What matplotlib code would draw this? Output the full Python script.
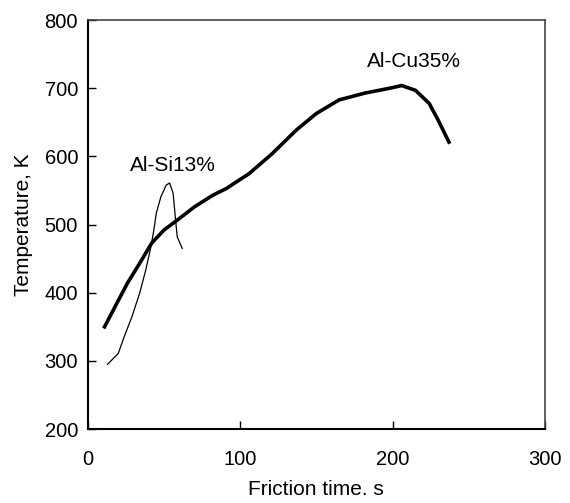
import matplotlib.pyplot as plt

plt.rcParams['font.family'] = ['Liberation Sans', 'DejaVu Sans']

# Al-Cu35% (thick line)
cu_time = [11, 18, 26, 34, 42, 50, 59, 70, 82, 91, 106, 121, 137, 150,
           165, 182, 198, 206, 215, 224, 230, 237]
cu_temp = [350, 380, 414, 443, 473, 492, 507, 526, 543, 553, 575, 604, 639, 663,
           683, 693, 700, 704, 697, 678, 653, 621]

# Al-Si13% (thin line)
si_time = [13, 20, 24, 29, 34, 38, 41, 43, 45, 48, 51.5, 53.7, 56, 57.4, 58.7, 62]
si_temp = [295, 311, 336, 365, 399, 433, 463, 487, 517, 541, 558, 561, 546, 512, 482, 465]

fig = plt.figure(figsize=(5.7, 5.03), dpi=100)
ax = fig.add_axes([0.154, 0.147, 0.802, 0.813])

ax.plot(cu_time, cu_temp, color='black', lw=2.6, solid_joinstyle='round')
ax.plot(si_time, si_temp, color='black', lw=0.9, solid_joinstyle='round')

ax.text(56, 587, 'Al-Si13%', fontsize=15, ha='center', va='center')
ax.text(214, 740, 'Al-Cu35%', fontsize=15, ha='center', va='center')

ax.set_xlim(0, 300)
ax.set_ylim(200, 800)
ax.set_xticks([0, 100, 200, 300])
ax.set_yticks([200, 300, 400, 500, 600, 700, 800])
ax.tick_params(direction='in', length=6, width=1, labelsize=14.5)
ax.tick_params(axis='x', pad=15)
ax.tick_params(axis='y', pad=7)

ax.set_xlabel('Friction time. s', fontsize=15, labelpad=8)
ax.set_ylabel('Temperature, K', fontsize=15, labelpad=8)

for side in ['left', 'bottom']:
    ax.spines[side].set_linewidth(1.5)
for side in ['top', 'right']:
    ax.spines[side].set_linewidth(1.2)
    ax.spines[side].set_color('#444444')

fig.savefig('out.png', dpi=100)
